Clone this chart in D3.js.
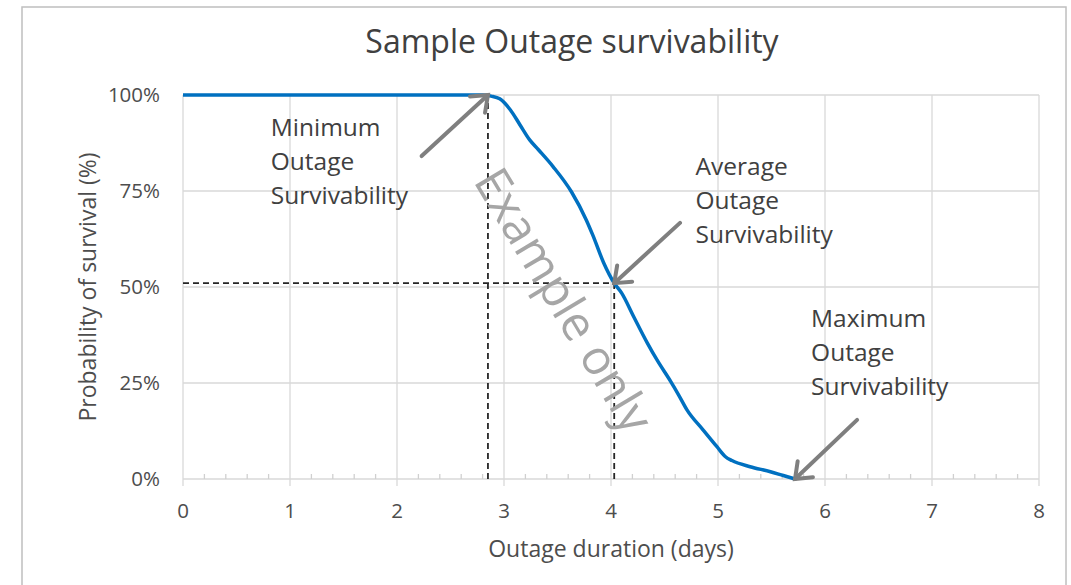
<!DOCTYPE html>
<html>
<head>
<meta charset="utf-8">
<script src="https://cdn.jsdelivr.net/npm/d3@7"></script>
<style>
  body { margin: 0; background: #fff; }
  svg { display: block; font-family: "Open Sans", sans-serif; }
</style>
</head>
<body>
<div></div>
<script>
// chart values
var duration = [0, 2.80, 2.88, 2.96, 3.06, 3.15, 3.24, 3.32, 3.46, 3.63, 3.77, 3.83, 3.93, 4.03, 4.10, 4.21,
                4.34, 4.43, 4.56, 4.63, 4.71, 4.86, 4.99, 5.07, 5.13, 5.30, 5.49, 5.61, 5.72];
var survival = [100, 100, 99.7, 99.0, 96.1, 92.2, 88.3, 85.8, 81.3, 74.8, 67.4, 63.5, 56.4, 51.0, 48.4, 42.4,
                35.4, 31.0, 25.3, 22.0, 18.0, 12.8, 8.4, 5.8, 4.8, 3.2, 1.9, 0.9, 0];
var xTicks = [0, 1, 2, 3, 4, 5, 6, 7, 8];
var yTicks = [0, 25, 50, 75, 100];

// marked points (days, %)
var minPoint = [2.85, 100];
var avgPoint = [4.03, 51];
var maxPoint = [5.72, 0];

// annotations: label lines, anchor of first line (days, %), arrow tail (days, %)
var noteLines = [
  ['Minimum', 'Outage', 'Survivability'],
  ['Average', 'Outage', 'Survivability'],
  ['Maximum', 'Outage', 'Survivability']
];
var noteAnchor = [[0.82, 89.3], [4.79, 79.2], [5.87, 39.6]];
var arrowTail = [[2.23, 84.1], [4.645, 66.7], [6.30, 15.4]];
var arrowHead = [minPoint, avgPoint, maxPoint];

var chartTitle = 'Sample Outage survivability';
var xTitle = 'Outage duration (days)';
var yTitle = 'Probability of survival (%)';
var watermark = 'Example only';

// layout
var w = 1071, h = 585;
var plotLeft = 183, plotRight = 1039, plotTop = 95, plotBottom = 479;

var svg = d3.select('div').append('svg')
    .attr('width', w)
    .attr('height', h);

svg.append('rect')
    .attr('x', 22).attr('y', 7)
    .attr('width', 1044).attr('height', 620)
    .attr('fill', '#fff')
    .attr('stroke', '#bfbfbf')
    .attr('stroke-width', 1.5);

var x = d3.scaleLinear().domain([0, 8]).range([plotLeft, plotRight]);
var y = d3.scaleLinear().domain([0, 100]).range([plotBottom, plotTop]);

// gridlines
svg.append('g')
    .selectAll('line')
    .data(yTicks)
    .enter().append('line')
    .attr('x1', plotLeft).attr('x2', plotRight)
    .attr('y1', d => y(d)).attr('y2', d => y(d))
    .attr('stroke', '#d9d9d9').attr('stroke-width', 1.3);

svg.append('g')
    .selectAll('line')
    .data(xTicks)
    .enter().append('line')
    .attr('x1', d => x(d)).attr('x2', d => x(d))
    .attr('y1', plotTop).attr('y2', plotBottom + 7)
    .attr('stroke', '#d9d9d9').attr('stroke-width', 1.3);

// minor ticks on the x axis
svg.append('g')
    .selectAll('line')
    .data(d3.range(0, 40).filter(i => i % 5 != 0).map(i => i / 5))
    .enter().append('line')
    .attr('x1', d => x(d)).attr('x2', d => x(d))
    .attr('y1', plotBottom - 5).attr('y2', plotBottom)
    .attr('stroke', '#d0d0d0').attr('stroke-width', 1.3);

// tick labels
svg.append('g')
    .selectAll('text')
    .data(yTicks)
    .enter().append('text')
    .attr('x', 160)
    .attr('y', d => y(d))
    .attr('dy', '0.35em')
    .attr('text-anchor', 'end')
    .attr('font-size', '20.5px')
    .attr('fill', '#4d4d4d')
    .text(d => d + '%');

svg.append('g')
    .selectAll('text')
    .data(xTicks)
    .enter().append('text')
    .attr('x', d => x(d))
    .attr('y', 518)
    .attr('text-anchor', 'middle')
    .attr('font-size', '20.5px')
    .attr('fill', '#4d4d4d')
    .text(d => d);

// titles
svg.append('text')
    .attr('x', 572).attr('y', 53)
    .attr('text-anchor', 'middle')
    .attr('font-size', '32px')
    .attr('fill', '#404040')
    .text(chartTitle);

svg.append('text')
    .attr('x', (plotLeft + plotRight) / 2).attr('y', 557)
    .attr('text-anchor', 'middle')
    .attr('font-size', '23px')
    .attr('fill', '#4d4d4d')
    .text(xTitle);

svg.append('text')
    .attr('transform', 'translate(96,' + y(50) + ') rotate(-90)')
    .attr('text-anchor', 'middle')
    .attr('font-size', '23px')
    .attr('fill', '#4d4d4d')
    .text(yTitle);

// dashed guides
var dash = svg.append('g')
    .attr('stroke', '#262626')
    .attr('stroke-width', 1.8)
    .attr('stroke-dasharray', '6,4');
dash.append('line')
    .attr('x1', x(minPoint[0])).attr('x2', x(minPoint[0]))
    .attr('y1', y(0)).attr('y2', y(minPoint[1]));
dash.append('line')
    .attr('x1', x(0)).attr('x2', x(avgPoint[0]))
    .attr('y1', y(avgPoint[1])).attr('y2', y(avgPoint[1]));
dash.append('line')
    .attr('x1', x(avgPoint[0])).attr('x2', x(avgPoint[0]))
    .attr('y1', y(0)).attr('y2', y(avgPoint[1]));

// watermark
svg.append('text')
    .attr('transform', 'translate(' + x(3.56) + ',' + y(46.6) + ') rotate(59)')
    .attr('text-anchor', 'middle')
    .attr('dy', '0.35em')
    .attr('font-size', '48px')
    .attr('fill', '#a6a6a6')
    .text(watermark);

// survival curve
var line = d3.line()
    .x(d => x(d[0]))
    .y(d => y(d[1]))
    .curve(d3.curveMonotoneX);

svg.append('path')
    .datum(d3.zip(duration, survival))
    .attr('d', line)
    .attr('fill', 'none')
    .attr('stroke', '#0070c0')
    .attr('stroke-width', 3.5)
    .attr('stroke-linejoin', 'round');

// arrows
var arrows = svg.append('g')
    .attr('stroke', '#7f7f7f')
    .attr('stroke-width', 4)
    .attr('fill', 'none');

arrowTail.forEach(function(t, i) {
    var x0 = x(t[0]), y0 = y(t[1]);
    var x1 = x(arrowHead[i][0]), y1 = y(arrowHead[i][1]);
    var a = Math.atan2(y0 - y1, x0 - x1);
    var len = 18, spread = 38 * Math.PI / 180;
    arrows.append('line')
        .attr('x1', x0).attr('y1', y0)
        .attr('x2', x1).attr('y2', y1)
        .attr('stroke-linecap', 'round');
    arrows.append('path')
        .attr('d', 'M' + (x1 + len * Math.cos(a - spread)) + ',' + (y1 + len * Math.sin(a - spread)) +
                   'L' + x1 + ',' + y1 +
                   'L' + (x1 + len * Math.cos(a + spread)) + ',' + (y1 + len * Math.sin(a + spread)))
        .attr('stroke-linecap', 'round')
        .attr('stroke-linejoin', 'miter');
});

// annotation labels
noteLines.forEach(function(lines, i) {
    var t = svg.append('text')
        .attr('x', x(noteAnchor[i][0]))
        .attr('y', y(noteAnchor[i][1]))
        .attr('font-size', '24.5px')
        .attr('fill', '#404040');
    t.selectAll('tspan')
        .data(lines)
        .enter().append('tspan')
        .attr('x', x(noteAnchor[i][0]))
        .attr('dy', (d, k) => k == 0 ? 0 : 34)
        .text(d => d);
});
</script>
</body>
</html>
